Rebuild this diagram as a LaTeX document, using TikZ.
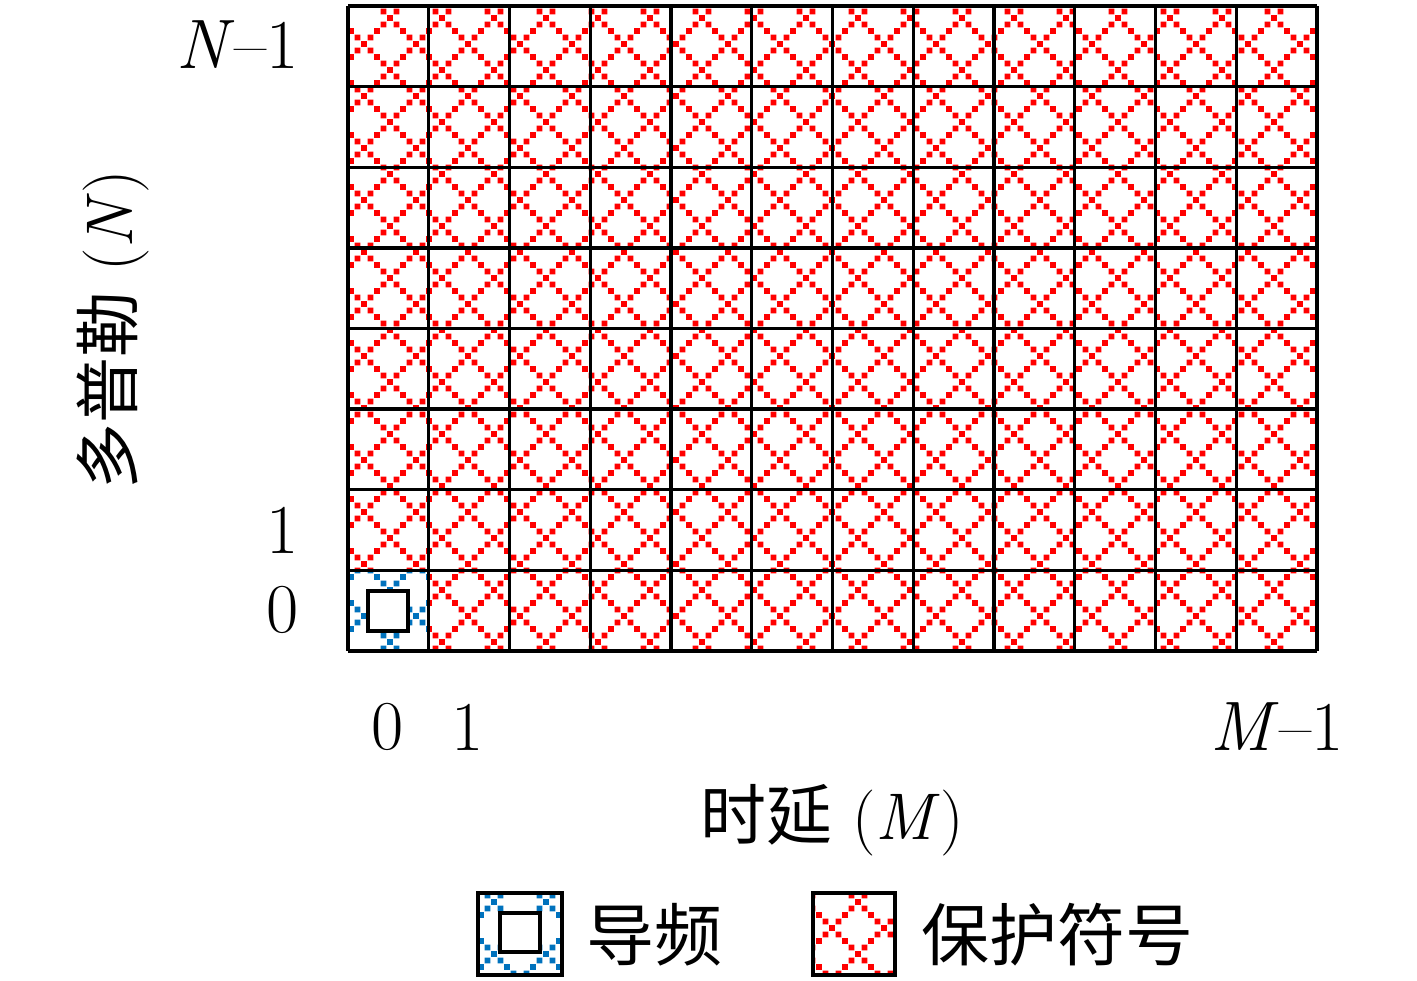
\documentclass[tikz,border=0pt]{standalone}
\usepackage{fontspec}
\usetikzlibrary{patterns}
\newfontfamily\cjk{Noto Sans CJK SC}
\definecolor{pblue}{RGB}{0,114,189}
\definecolor{pred}{RGB}{255,0,0}
\pgfdeclarepatternformonly{dotx}{\pgfpoint{-2pt}{-2pt}}{\pgfpoint{28pt}{28pt}}{\pgfpoint{26pt}{26pt}}{%
  \foreach \i in {0,...,8}{
    \pgfpathrectangle{\pgfpoint{\i*3.25pt-1.4pt}{\i*3.25pt-1.4pt}}{\pgfpoint{2.8pt}{2.8pt}}
    \pgfpathrectangle{\pgfpoint{\i*3.25pt-1.4pt}{26pt-\i*3.25pt-1.4pt}}{\pgfpoint{2.8pt}{2.8pt}}
  }
  \pgfusepath{fill}
}
\tikzset{
  gridline/.style={line width=1.7pt, draw=black},
  boxline/.style={line width=2pt, draw=black},
  guard/.style={pattern=dotx, pattern color=pred},
  pilot/.style={pattern=dotx, pattern color=pblue},
  lbl/.style={inner sep=0pt, font=\fontsize{35}{40}\selectfont},
  ttl/.style={inner sep=0pt, font=\fontsize{33}{38}\selectfont},
  leg/.style={inner sep=0pt, anchor=west, font=\fontsize{34}{40}\selectfont},
}
\begin{document}
\begin{tikzpicture}[x=0.5pt,y=-0.5pt]
\useasboundingbox[fill=white] (0,0) rectangle (1417,980);
% grid hatch
\fill[guard] (348,6) rectangle (1317,651);
% pilot cell
\fill[white] (348,571) rectangle (428.75,651);
\fill[pilot] (348,571) rectangle (428.75,651);
% grid lines
\foreach \i in {0,...,12}{
  \draw[gridline] (348+\i*80.75,6) -- (348+\i*80.75,651);
}
\foreach \j in {0,...,8}{
  \draw[gridline] (348,6+\j*80.625) -- (1317,6+\j*80.625);
}
\draw[boxline,fill=white] (368,591) rectangle (408,631);
% axis labels
\node[lbl,anchor=east] (yN) at (299,45) {\textit{N}--1};
\node[lbl,anchor=east] (y1) at (299,530) {1};
\node[lbl,anchor=east] (y0) at (299,610) {0};
\node[lbl] (x0) at (388,727) {0};
\node[lbl] (x1) at (468,727) {1};
\node[lbl] (xM) at (1277,727) {\textit{M}--1};
\node[ttl] (xt) at (832,820) {{\cjk 时延}\ (\textit{M})};
\node[ttl,rotate=90] (yt) at (113,330) {{\cjk 多普勒}\ (\textit{N})};
% legend
\fill[pilot] (478,893) rectangle (562,975);
\draw[boxline] (478,893) rectangle (562,975);
\draw[boxline,fill=white] (500,913) rectangle (540,952);
\node[leg] (l1) at (586,935) {\cjk 导频};
\fill[guard] (813,893) rectangle (895,975);
\draw[boxline] (813,893) rectangle (895,975);
\node[leg] (l2) at (921,935) {\cjk 保护符号};
\end{tikzpicture}
\end{document}
